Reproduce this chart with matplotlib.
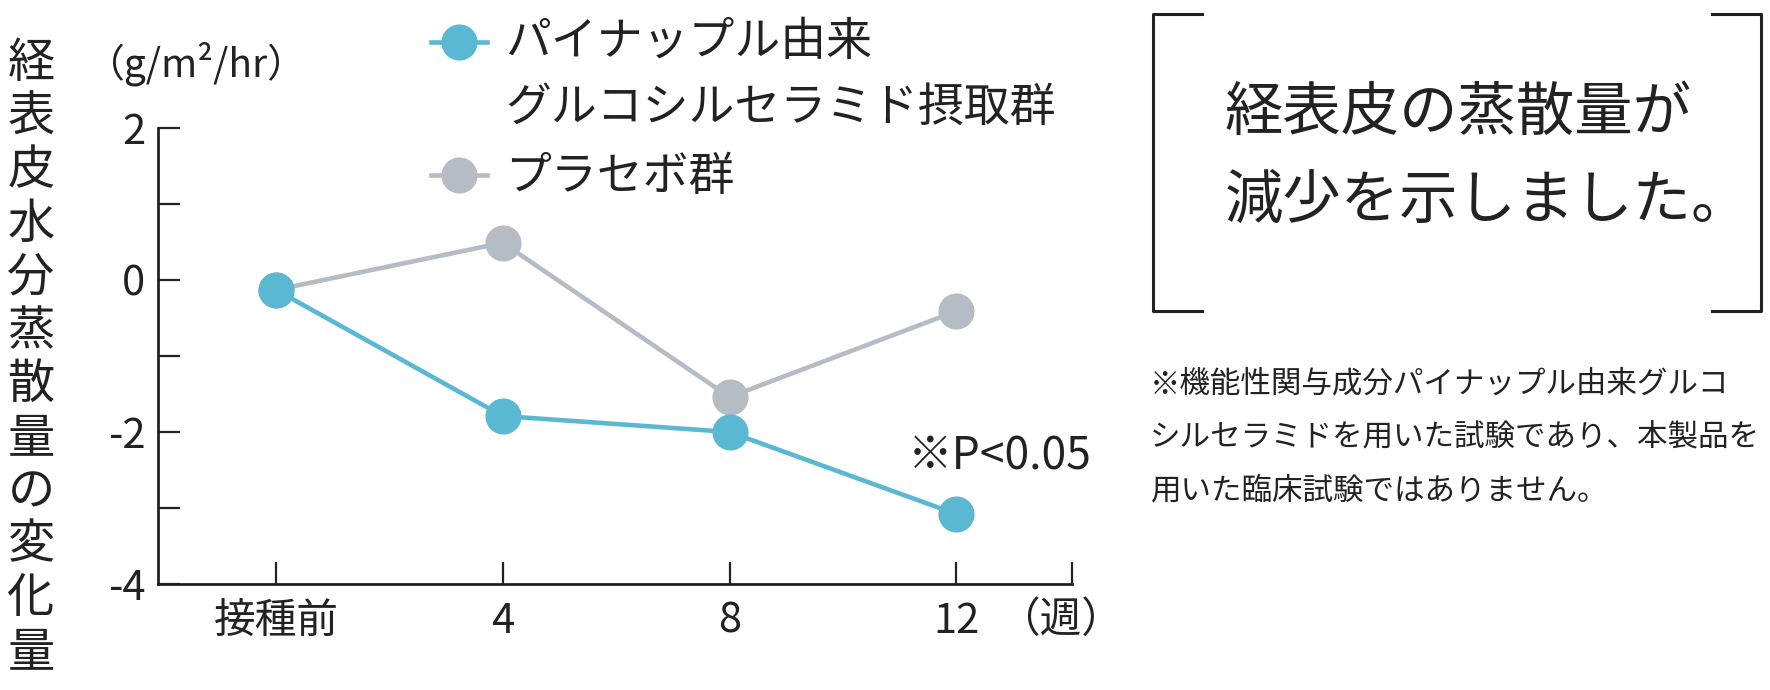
import matplotlib
matplotlib.use('Agg')
import matplotlib.pyplot as plt
from matplotlib.lines import Line2D

plt.rcParams['font.family'] = ['Noto Sans CJK JP', 'DejaVu Sans']

## Data
weeks = ['接種前', '4', '8', '12']
ceramide = [-0.13, -1.79, -2.0, -3.08]
placebo = [-0.13, 0.49, -1.54, -0.41]

ceramide_label = 'パイナップル由来\nグルコシルセラミド摂取群'
placebo_label = 'プラセボ群'
ylabel = '経表皮水分蒸散量の変化量'
unit = '（g/m²/hr）'
week_unit = '（週）'
p_note = '※P<0.05'
headline = '経表皮の蒸散量が\n減少を示しました。'
footnote = ['※機能性関与成分パイナップル由来グルコ',
            'シルセラミドを用いた試験であり、本製品を',
            '用いた臨床試験ではありません。']

blue = '#5bb8d3'
gray = '#b6bcc4'
ink = '#222222'
W, H = 1770, 690


def fx(px):
    return px / W


def fy(py):
    return 1 - py / H


fig = plt.figure(figsize=(17.7, 6.9), dpi=100)
ax = fig.add_axes([fx(158), fy(584), fx(1072) - fx(158), fy(128) - fy(584)])

x = list(range(len(weeks)))
ax.plot(x, placebo, color=gray, lw=3.3, marker='o', ms=25, zorder=3)
ax.plot(x, ceramide, color=blue, lw=3.3, marker='o', ms=25, zorder=4)

ax.set_xlim(-0.52, 3.51)
ax.set_ylim(-4, 2)
ax.spines['top'].set_visible(False)
ax.spines['right'].set_visible(False)
for s in ['left', 'bottom']:
    ax.spines[s].set_linewidth(2)
    ax.spines[s].set_color(ink)

ax.set_yticks(range(-4, 3))
ax.set_yticklabels([str(v) if v % 2 == 0 else '' for v in range(-4, 3)])
ax.set_xticks(x + [3.51])
ax.set_xticklabels(weeks + [''])
ax.tick_params(direction='in', length=16, width=1.6, color=ink,
               labelsize=30, labelcolor=ink)
ax.tick_params(axis='y', pad=9)
ax.tick_params(axis='x', pad=12)

# labels around the axes
for i, ch in enumerate(ylabel):
    fig.text(fx(31), fy(64 + i * 53.5), ch, fontsize=34, ha='center', va='center', color=ink)
fig.text(fx(86), fy(64), unit, fontsize=28, ha='left', va='center', color=ink)
fig.text(fx(998), fy(621), week_unit, fontsize=30, ha='left', va='center', color=ink)
fig.text(fx(908), fy(457), p_note, fontsize=32, ha='left', va='center', color=ink)

# legend drawn by hand
for yy, col in [(42, blue), (175, gray)]:
    fig.add_artist(Line2D([fx(431), fx(487)], [fy(yy), fy(yy)], color=col, lw=3.3,
                          transform=fig.transFigure))
    fig.add_artist(Line2D([fx(459)], [fy(yy)], color=col, marker='o', ms=25,
                          transform=fig.transFigure))
line1, line2 = ceramide_label.split('\n')
fig.text(fx(505), fy(42), line1, fontsize=33, ha='left', va='center', color=ink)
fig.text(fx(505), fy(107), line2, fontsize=33, ha='left', va='center', color=ink)
fig.text(fx(505), fy(177), placebo_label, fontsize=33, ha='left', va='center', color=ink)

# bracket box
bk = dict(color=ink, lw=2.2, transform=fig.transFigure)
fig.add_artist(Line2D([fx(1202), fx(1153), fx(1153), fx(1202)],
                      [fy(14), fy(14), fy(311), fy(311)], **bk))
fig.add_artist(Line2D([fx(1712), fx(1761), fx(1761), fx(1712)],
                      [fy(14), fy(14), fy(311), fy(311)], **bk))
h1, h2 = headline.split('\n')
fig.text(fx(1225), fy(113), h1, fontsize=42, ha='left', va='center', color=ink)
fig.text(fx(1225), fy(201), h2, fontsize=42, ha='left', va='center', color=ink)

for i, line in enumerate(footnote):
    fig.text(fx(1150), fy(384 + i * 53.5), line, fontsize=22, ha='left', va='center', color=ink)

fig.savefig('out.png', dpi=100)
plt.close()
